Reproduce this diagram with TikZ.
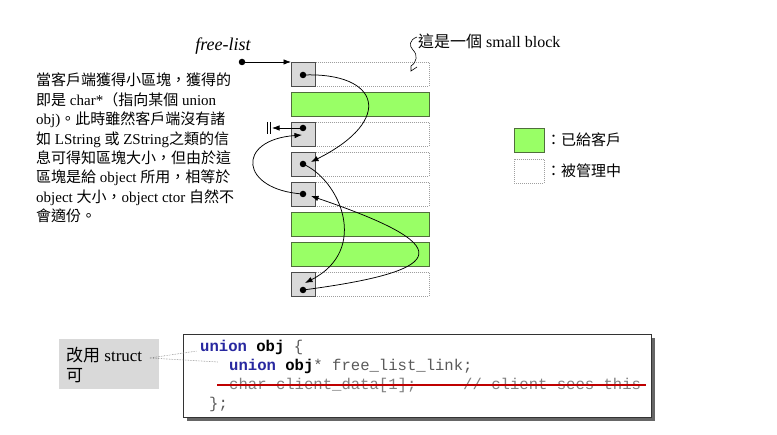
\documentclass[tikz,border=0pt]{standalone}
\usepackage{fontspec}
\setmainfont{Liberation Serif}
\setmonofont{Liberation Mono}
\newfontfamily\cjk{Noto Sans CJK TC}
\usetikzlibrary{arrows.meta}
\newcommand{\zh}[1]{{\cjk #1}}
\definecolor{blockgreen}{RGB}{153,255,102}
\definecolor{greenedge}{RGB}{80,110,60}
\definecolor{squaregray}{RGB}{217,217,217}
\definecolor{codeblue}{RGB}{40,40,160}
\definecolor{codegray}{RGB}{90,90,90}
\definecolor{notegray}{RGB}{217,217,217}
\tikzset{
  freerow/.style={draw=gray!75, dash pattern=on 1pt off 1pt, line width=0.5pt, minimum width=138pt, minimum height=24pt, inner sep=0pt, anchor=north west},
  usedrow/.style={draw=greenedge, fill=blockgreen, line width=0.7pt, minimum width=138pt, minimum height=24pt, inner sep=0pt, anchor=north west},
  headsq/.style={draw=gray!60!black, fill=squaregray, line width=0.6pt, minimum width=24pt, minimum height=24pt, inner sep=0pt, anchor=north west},
  linkdot/.style={circle, fill=black, inner sep=0pt, minimum size=6.5pt},
  link/.style={line width=0.75pt, -{Latex[length=7.5pt,width=5.5pt]}},
  txt/.style={inner sep=0pt, font=\fontsize{15}{19.4}\selectfont},
  codeline/.style={inner sep=0pt, anchor=west, font=\ttfamily\fontsize{15.6}{19}\selectfont, text=codegray},
}
\begin{document}
\begin{tikzpicture}[x=1pt,y=-1pt]
\useasboundingbox[fill=white] (0,0) rectangle (777,435);

% rows
\node[freerow] (r1) at (291,62) {};
\node[usedrow] (r2) at (291,92) {};
\node[freerow] (r3) at (291,122) {};
\node[freerow] (r4) at (291,152) {};
\node[freerow] (r5) at (291,182) {};
\node[usedrow] (r6) at (291,212) {};
\node[usedrow] (r7) at (291,242) {};
\node[freerow] (r8) at (291,272) {};
% head squares
\node[headsq] (g1) at (291,62) {};
\node[headsq] (g3) at (291,122) {};
\node[headsq] (g4) at (291,152) {};
\node[headsq] (g5) at (291,182) {};
\node[headsq] (g8) at (291,272) {};
% dots
\node[linkdot] (d1) at (303,75) {};
\node[linkdot] (d3) at (303,128) {};
\node[linkdot] (d4) at (303,164) {};
\node[linkdot] (d5) at (303,194) {};
\node[linkdot] (d8) at (303,290) {};
% arrow targets
\coordinate (t3) at (302,135);
\coordinate (t4) at (311,162);
\coordinate (t5) at (311,196);
\coordinate (t8) at (305,283);
\coordinate (gnd) at (272,128);

% free-list
\node[txt, font=\itshape\fontsize{18}{20}\selectfont] (fl) at (223,46) {free-list};
\node[linkdot] (fd) at (242,62) {};
\draw[link] (fd) -- (g1.north west);

% links
\draw[link] (d1.center) .. controls (380,72) and (395,120) .. (t4);
\draw[link] (d4.center) .. controls (340,180) and (370,250) .. (t8);
\draw[link] (d8.center) .. controls (455,270) and (455,245) .. (t5);
\draw[link] (d5.center) .. controls (240,190) and (235,140) .. (t3);
\draw[link] (d3.center) -- (gnd);
\coordinate (ga1) at (267,122);
\coordinate (ga2) at (267,134);
\coordinate (gb1) at (270,122);
\coordinate (gb2) at (270,134);
\draw[line width=0.7pt] (ga1) -- (ga2);
\draw[line width=0.7pt] (gb1) -- (gb2);

% small block label
\node[txt, anchor=west, font=\fontsize{16}{19}\selectfont] (sb) at (418,41) {\zh{這是一個} small block};
\coordinate (sq0) at (417,37);
\coordinate (sq1) at (411,71);
\coordinate (sq2) at (417,67);
\draw[line width=0.6pt] (sq0) .. controls (409,40) and (409,46) .. (413,50)
   .. controls (418,55) and (417,62) .. (411,66) -- (sq1) -- (sq2);

% left description
\node[txt, anchor=north west, align=left] (desc) at (36,73) {%
\zh{當客戶端獲得小區塊，獲得的}\\
\zh{即是} char*\zh{（指向某個} union\\
obj)\zh{。此時雖然客戶端沒有諸}\\
\zh{如} LString \zh{或} ZString\zh{之類的信}\\
\zh{息可得知區塊大小，但由於這}\\
\zh{區塊是給} object \zh{所用，相等於}\\
object \zh{大小，}object ctor \zh{自然不}\\
\zh{會適份。}};

% legend
\node[usedrow, minimum width=30pt] (lg1) at (514,128) {};
\node[freerow, minimum width=30pt] (lg2) at (514,159) {};
\node[txt, anchor=west] (lt1) at (546,140) {\zh{：已給客戶}};
\node[txt, anchor=west] (lt2) at (546,171) {\zh{：被管理中}};

% code box with shadow
\fill[black!60] (187,338) rectangle (655,421);
\node[draw=black!80, fill=white, line width=0.8pt, minimum width=468pt, minimum height=83pt, inner sep=0pt, anchor=north west] (code) at (183,334) {};
\node[codeline] (c1) at (200,347) {{\bfseries\color{codeblue}union} {\bfseries\color{black}obj} \{};
\node[codeline] (c2) at (229,366) {{\bfseries\color{codeblue}union} {\bfseries\color{black}obj}* free\_list\_link;};
\node[codeline, text=gray] (c3) at (229,385) {char client\_data[1];~~~~~// client sees this};
\node[codeline] (c4) at (209,404) {\};};
\coordinate (st1) at (217,385);
\coordinate (st2) at (646,385);
\draw[red!75!black, line width=1.1pt] (st1) -- (st2);

% note box
\node[fill=notegray, minimum width=100pt, minimum height=50pt, inner sep=0pt, anchor=north west] (note) at (59,339) {};
\node[txt, anchor=west, font=\fontsize{17}{20}\selectfont] (n1) at (66,355) {\zh{改用} struct};
\node[txt, anchor=west, font=\fontsize{17}{20}\selectfont] (n2) at (66,376) {\zh{可}};
\coordinate (nl0) at (150,358);
\coordinate (nl1) at (197,351);
\coordinate (nl2) at (218,362);
\draw[gray, densely dotted, line width=0.6pt] (nl0) -- (nl1);
\draw[gray, densely dotted, line width=0.6pt] (nl0) -- (nl2);
\end{tikzpicture}
\end{document}
